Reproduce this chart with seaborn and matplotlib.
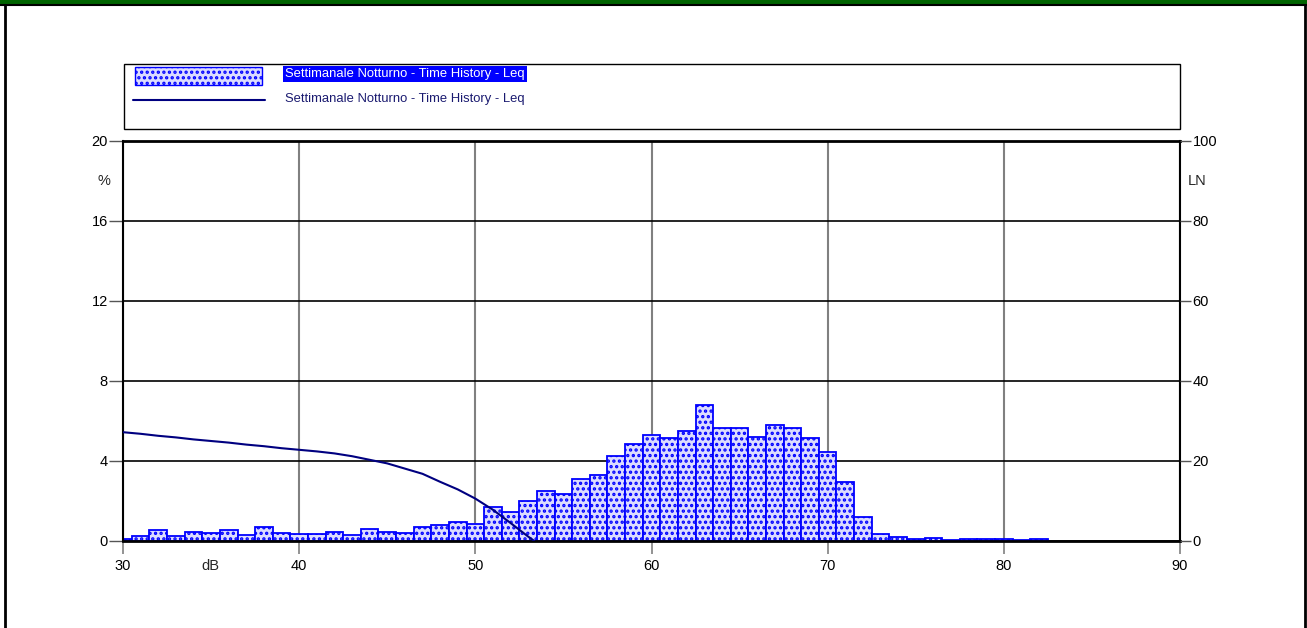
import numpy as np
import pandas as pd
import matplotlib
matplotlib.use("Agg")
import matplotlib.pyplot as plt
import seaborn as sns
from matplotlib.patches import Rectangle
from matplotlib.lines import Line2D

# ---------------- data ----------------
levels_db = list(range(30, 83))
percent = [0.12, 0.23, 0.55, 0.23, 0.43, 0.40, 0.55, 0.32, 0.68, 0.40,
           0.37, 0.37, 0.47, 0.32, 0.58, 0.47, 0.40, 0.70, 0.78, 0.97,
           0.83, 1.72, 1.45, 1.98, 2.50, 2.35, 3.09, 3.31, 4.25, 4.83,
           5.32, 5.14, 5.49, 6.81, 5.65, 5.65, 5.20, 5.79, 5.64, 5.14,
           4.45, 2.94, 1.19, 0.37, 0.19, 0.08, 0.15, 0.05, 0.08, 0.10,
           0.08, 0.05, 0.08]
ln_db = [30, 31, 32, 33, 34, 35, 36, 37, 38, 39, 40, 41, 42, 43, 44, 45,
         46, 47, 48, 49, 50, 51, 52, 53, 53.35]
ln_val = [27.2, 26.8, 26.3, 25.9, 25.4, 25.0, 24.6, 24.1, 23.7, 23.2, 22.8,
          22.4, 21.9, 21.2, 20.3, 19.4, 18.1, 16.8, 14.8, 12.9, 10.6, 7.8,
          4.5, 1.1, 0.0]
x_ticks = [30, 40, 50, 60, 70, 80, 90]
y_ticks = [0, 4, 8, 12, 16, 20]
y2_ticks = [0, 20, 40, 60, 80, 100]
legend_label = "Settimanale Notturno - Time History - Leq"

# ---------------- style ----------------
sns.set_theme(style="white")
plt.rcParams["font.family"] = ["Liberation Sans", "DejaVu Sans"]
plt.rcParams["hatch.linewidth"] = 1.6

W, H = 1307, 628
fig = plt.figure(figsize=(W / 100, H / 100), dpi=100)
fig.patch.set_facecolor("white")


def fx(px):
    return px / W


def fy(py):
    return 1 - py / H


ax = fig.add_axes([fx(123), fy(541), fx(1180) - fx(123), fy(141) - fy(541)])
ax.set_facecolor("white")
ax.set_axisbelow(True)

df = pd.DataFrame({"dB": levels_db, "pct": percent})
sns.histplot(data=df, x="dB", weights="pct", discrete=True,
             ax=ax, stat="count", element="bars", fill=True,
             color="#dcdcff", edgecolor="#0000ff", linewidth=1.3, alpha=1.0)
for p in ax.patches:
    p.set_hatch("...")

ax.set_xlim(30, 90)
ax.set_ylim(0, 20)
ax.set_xticks(x_ticks)
ax.set_yticks(y_ticks)
ax.set_xlabel("")
ax.set_ylabel("")
ax.yaxis.grid(True, color="black", lw=1.2)
ax.xaxis.grid(True, color="#808080", lw=1.5)
ax.tick_params(axis="y", direction="out", length=10, width=1, color="#555555",
               pad=1, labelsize=10.5, left=True, labelcolor="black")
ax.tick_params(axis="x", direction="out", length=9, width=1.2, color="#808080",
               pad=4, labelsize=10.5, bottom=True, labelcolor="black")
for s in ax.spines.values():
    s.set_color("black")
    s.set_linewidth(1.5)
ax.spines["bottom"].set_linewidth(2)
ax.spines["top"].set_linewidth(2)

ax2 = ax.twinx()
sns.lineplot(x=ln_db, y=ln_val, ax=ax2, color="#000080", lw=1.5)
ax2.set_ylim(0, 100)
ax2.set_xlim(30, 90)
ax2.set_yticks(y2_ticks)
ax2.set_ylabel("")
ax2.set_xlabel("")
ax2.grid(False)
ax2.tick_params(axis="y", direction="out", length=8, width=1, color="#555555",
                pad=1, labelsize=10.5, right=True, labelcolor="black")
for s in ax2.spines.values():
    s.set_visible(False)

# axis unit labels
fig.text(fx(104), fy(181), "%", ha="center", va="center", fontsize=10.5)
fig.text(fx(1197), fy(181), "LN", ha="center", va="center", fontsize=10.5)
fig.text(fx(210.5), fy(566), "dB", ha="center", va="center", fontsize=10.5)

# legend box
fig.patches.append(Rectangle((fx(124), fy(129)), fx(1180) - fx(124), fy(64) - fy(129),
                             transform=fig.transFigure, fill=False,
                             edgecolor="black", lw=1.0))
fig.patches.append(Rectangle((fx(135), fy(85)), fx(262) - fx(135), fy(67) - fy(85),
                             transform=fig.transFigure, facecolor="#dcdcff",
                             edgecolor="#0000ff", lw=1.0, hatch="..."))
fig.lines.append(Line2D([fx(133), fx(265)], [fy(100), fy(100)],
                        transform=fig.transFigure, color="#000080", lw=1.5))
fig.text(fx(285), fy(74), legend_label, ha="left", va="center", fontsize=9.4,
         color="white",
         bbox=dict(boxstyle="square,pad=0.15", facecolor="#0000ff", edgecolor="none"))
fig.text(fx(285), fy(99), legend_label, ha="left", va="center", fontsize=9.4,
         color="#1a1a70")

# page frame
fig.patches.append(Rectangle((0, fy(4.5)), 1, 4.5 / H, transform=fig.transFigure,
                             facecolor="#006400", edgecolor="none"))
fig.lines.append(Line2D([0, 1], [fy(5.3), fy(5.3)], transform=fig.transFigure,
                        color="black", lw=1.5))
fig.lines.append(Line2D([fx(4.5), fx(4.5)], [fy(5), 0], transform=fig.transFigure,
                        color="black", lw=2))
fig.lines.append(Line2D([fx(1304.5), fx(1304.5)], [fy(5), 0], transform=fig.transFigure,
                        color="black", lw=2))

fig.savefig("out.png", dpi=100, facecolor="white")
